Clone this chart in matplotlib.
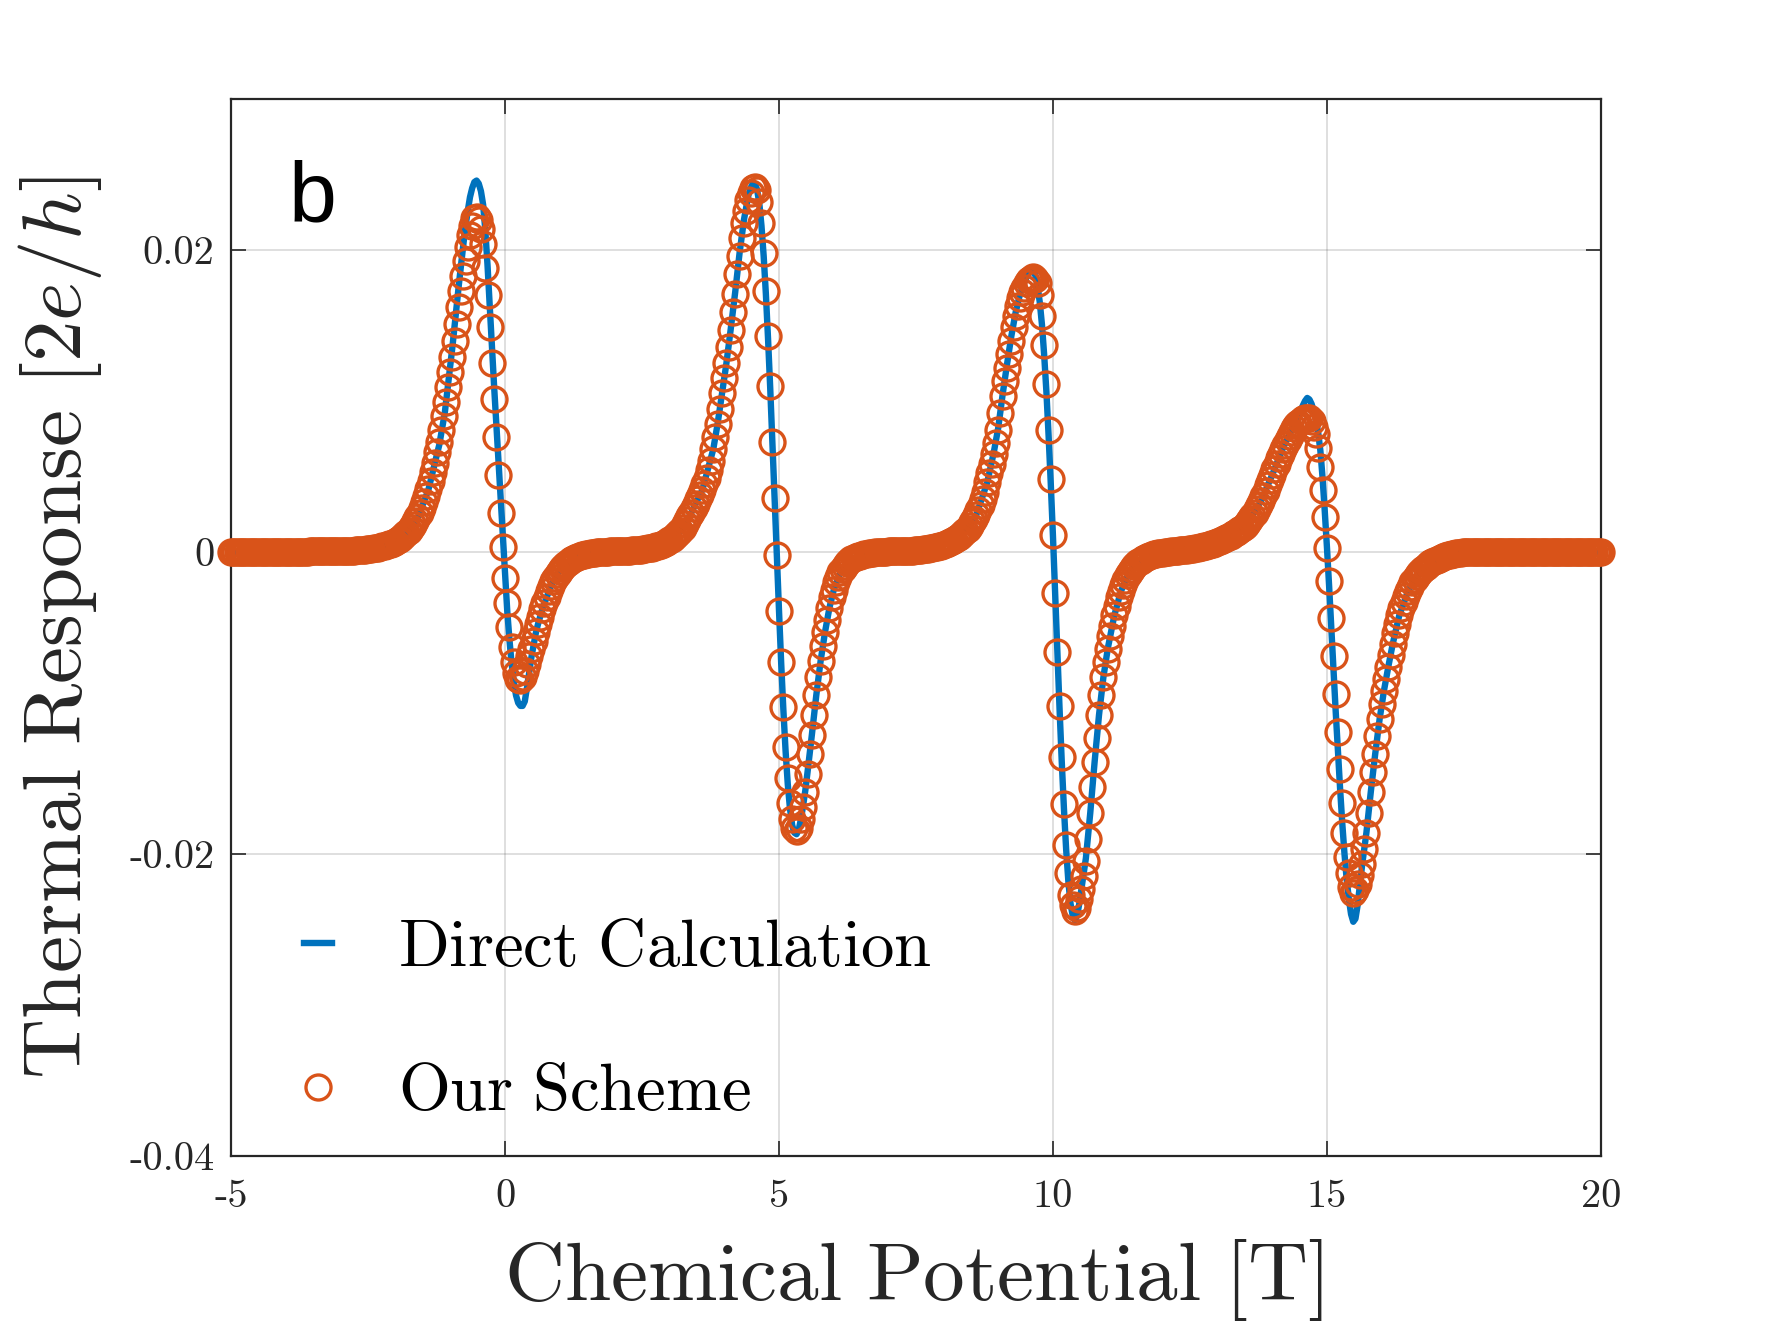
import numpy as np
import matplotlib
matplotlib.use("Agg")
import matplotlib.pyplot as plt
from matplotlib.lines import Line2D

plt.rcParams['mathtext.fontset'] = 'cm'

# chemical potential grid of the scheme (step 0.04 T)
mu = np.linspace(-5, 20, 626)

# "Our Scheme" response, in units of 1e-3 (2e/h); one row per unit of mu
scheme_milli = [
    # -5 .. -4.04
    0, 0, 0, 0, 0, 0, 0, 0, 0, 0, 0, 0, 0, 0, 0, 0, 0, 0, 0, 0, 0, 0, 0, 0, 0,
    # -4 .. -3.04
    0.01, 0.01, 0.01, 0.01, 0.01, 0.02, 0.02, 0.02, 0.02, 0.02, 0.02, 0.03, 0.03,
    0.03, 0.03, 0.03, 0.03, 0.04, 0.04, 0.04, 0.04, 0.04, 0.04, 0.05, 0.05,
    # -3 .. -2.04
    0.05, 0.05, 0.06, 0.06, 0.07, 0.08, 0.09, 0.1, 0.11, 0.12, 0.13, 0.15, 0.17,
    0.19, 0.21, 0.23, 0.26, 0.29, 0.32, 0.36, 0.4, 0.45, 0.5, 0.55, 0.61,
    # -2 .. -1.04
    0.68, 0.77, 0.87, 0.98, 1.1, 1.25, 1.4, 1.6, 1.8, 2.05, 2.3, 2.6, 2.9,
    3.3, 3.7, 4.2, 4.7, 5.3, 5.9, 6.6, 7.3, 8.1, 9.0, 9.9, 10.9,
    # -1 .. -0.04
    11.9, 12.9, 14.0, 15.1, 16.2, 17.3, 18.3, 19.3, 20.2, 21.0, 21.6, 22.1, 22.2,
    22.0, 21.4, 20.4, 18.8, 17.0, 14.9, 12.5, 10.1, 7.6, 5.1, 2.6, 0.3,
    # 0 .. 0.96
    -1.7, -3.4, -5.0, -6.3, -7.3, -8.0, -8.4, -8.5, -8.3, -7.9, -7.4, -6.9, -6.4,
    -5.9, -5.3, -4.8, -4.3, -3.8, -3.4, -3.0, -2.6, -2.25, -1.95, -1.7, -1.45,
    # 1 .. 1.96
    -1.25, -1.05, -0.9, -0.78, -0.66, -0.56, -0.47, -0.4, -0.33, -0.27, -0.22, -0.18, -0.14,
    -0.11, -0.08, -0.06, -0.04, -0.02, 0.0, 0.0, 0.01, 0.02, 0.02, 0.03, 0.03,
    # 2 .. 2.96
    0.04, 0.04, 0.05, 0.05, 0.06, 0.07, 0.08, 0.09, 0.1, 0.11, 0.12, 0.14, 0.16,
    0.18, 0.2, 0.23, 0.26, 0.29, 0.33, 0.37, 0.42, 0.47, 0.53, 0.6, 0.68,
    # 3 .. 3.96
    0.77, 0.87, 0.98, 1.1, 1.25, 1.4, 1.6, 1.85, 2.1, 2.35, 2.6, 2.9, 3.2,
    3.5, 3.8, 4.1, 4.5, 4.9, 5.4, 6.0, 6.8, 7.6, 8.5, 9.5, 10.5,
    # 4 .. 4.96
    11.5, 12.5, 13.6, 14.7, 15.9, 17.1, 18.4, 19.6, 20.8, 21.8, 22.6, 23.3, 23.8,
    24.1, 24.2, 24.0, 23.2, 21.8, 19.8, 17.3, 14.3, 11.0, 7.3, 3.6, -0.2,
    # 5 .. 5.96
    -3.9, -7.3, -10.3, -12.9, -15.0, -16.6, -17.7, -18.3, -18.5, -18.3, -17.7, -16.9, -15.9,
    -14.7, -13.4, -12.1, -10.8, -9.5, -8.3, -7.2, -6.2, -5.3, -4.5, -3.7, -3.0,
    # 6 .. 6.96
    -2.5, -2.0, -1.65, -1.35, -1.1, -0.9, -0.75, -0.62, -0.5, -0.42, -0.35, -0.29, -0.24,
    -0.19, -0.15, -0.12, -0.09, -0.06, -0.04, -0.02, 0.0, 0.01, 0.01, 0.02, 0.02,
    # 7 .. 7.96
    0.03, 0.03, 0.03, 0.03, 0.04, 0.04, 0.04, 0.05, 0.06, 0.07, 0.08, 0.09, 0.1,
    0.12, 0.13, 0.15, 0.17, 0.19, 0.21, 0.24, 0.27, 0.3, 0.34, 0.38, 0.42,
    # 8 .. 8.96
    0.47, 0.52, 0.58, 0.65, 0.72, 0.8, 0.9, 1.0, 1.12, 1.25, 1.4, 1.55, 1.75,
    1.95, 2.2, 2.45, 2.75, 3.1, 3.5, 4.0, 4.6, 5.2, 5.8, 6.5, 7.2,
    # 9 .. 9.96
    8.1, 9.2, 10.3, 11.3, 12.2, 13.1, 14.0, 14.9, 15.6, 16.3, 16.8, 17.2, 17.5,
    17.8, 18.0, 18.1, 18.2, 18.1, 17.8, 17.0, 15.6, 13.7, 11.1, 8.1, 4.8,
    # 10 .. 10.96
    1.1, -2.7, -6.6, -10.2, -13.6, -16.7, -19.4, -21.3, -22.7, -23.4, -23.8, -23.6, -23.0,
    -22.3, -21.5, -20.5, -19.0, -17.3, -15.6, -13.9, -12.3, -10.8, -9.5, -8.3, -7.3,
    # 11 .. 11.96
    -6.4, -5.6, -4.9, -4.2, -3.6, -3.0, -2.6, -2.2, -1.85, -1.55, -1.3, -1.1, -0.95,
    -0.8, -0.68, -0.57, -0.48, -0.4, -0.33, -0.27, -0.22, -0.17, -0.13, -0.1, -0.07,
    # 12 .. 12.96
    -0.04, -0.02, 0.0, 0.02, 0.03, 0.05, 0.06, 0.08, 0.1, 0.12, 0.14, 0.16, 0.18,
    0.2, 0.22, 0.24, 0.27, 0.3, 0.33, 0.37, 0.41, 0.45, 0.5, 0.55, 0.6,
    # 13 .. 13.96
    0.66, 0.72, 0.78, 0.85, 0.92, 1.0, 1.07, 1.16, 1.25, 1.35, 1.45, 1.55, 1.68,
    1.8, 2.0, 2.2, 2.4, 2.6, 2.85, 3.1, 3.4, 3.7, 4.05, 4.4, 4.75,
    # 14 .. 14.96
    5.1, 5.5, 5.85, 6.2, 6.5, 6.8, 7.1, 7.4, 7.7, 7.95, 8.2, 8.4, 8.55,
    8.7, 8.8, 8.85, 8.9, 8.85, 8.7, 8.3, 7.8, 6.9, 5.6, 4.1, 2.3,
    # 15 .. 15.96
    0.25, -1.9, -4.4, -6.9, -9.4, -11.9, -14.4, -16.6, -18.6, -20.2, -21.3, -22.2, -22.6,
    -22.4, -22.0, -21.4, -20.7, -19.7, -18.6, -17.3, -15.9, -14.6, -13.4, -12.2, -11.1,
    # 16 .. 16.96
    -10.1, -9.2, -8.4, -7.6, -6.8, -6.1, -5.4, -4.8, -4.2, -3.7, -3.3, -2.9, -2.6,
    -2.3, -2.0, -1.8, -1.6, -1.4, -1.25, -1.1, -0.98, -0.86, -0.76, -0.67, -0.59,
    # 17 .. 17.96
    -0.52, -0.45, -0.39, -0.33, -0.28, -0.23, -0.19, -0.15, -0.12, -0.09, -0.06, -0.04, -0.02,
    0.0, 0.0, 0.0, 0.0, 0.0, 0.0, 0.0, 0.0, 0.0, 0.0, 0.0, 0.0,
    # 18 .. 18.96
    0, 0, 0, 0, 0, 0, 0, 0, 0, 0, 0, 0, 0, 0, 0, 0, 0, 0, 0, 0, 0, 0, 0, 0, 0,
    # 19 .. 20
    0, 0, 0, 0, 0, 0, 0, 0, 0, 0, 0, 0, 0, 0, 0, 0, 0, 0, 0, 0, 0, 0, 0, 0, 0,
    0,
]

# "Direct Calculation" curve (x in T, y in 1e-3 of 2e/h)
direct_x = [
    -5.0, -4.0, -3.0, -2.5, -2.0, -1.8, -1.6, -1.4, -1.2, -1.1,
    -1.0, -0.96, -0.92, -0.88, -0.84, -0.80, -0.76, -0.72, -0.68, -0.64,
    -0.60, -0.56, -0.52, -0.48, -0.44, -0.40, -0.36, -0.32, -0.28, -0.24,
    -0.20, -0.16, -0.12, -0.08, -0.04, 0.00, 0.04, 0.08, 0.12, 0.16,
    0.20, 0.24, 0.28, 0.32, 0.36, 0.40, 0.44, 0.48, 0.52, 0.56,
    0.60, 0.68, 0.76, 0.84, 0.92, 1.00, 1.20, 1.40, 1.72, 2.2,
    2.6, 3.0, 3.2, 3.4, 3.6, 3.8, 3.88, 3.96, 4.04, 4.12,
    4.20, 4.28, 4.36, 4.44, 4.48, 4.52, 4.56, 4.60, 4.64, 4.68,
    4.72, 4.76, 4.80, 4.84, 4.88, 4.92, 4.96, 5.00, 5.04, 5.08,
    5.12, 5.16, 5.20, 5.24, 5.28, 5.32, 5.36, 5.40, 5.44, 5.48,
    5.52, 5.60, 5.68, 5.76, 5.84, 5.92, 6.00, 6.12, 6.24, 6.40,
    6.60, 6.80, 7.2, 7.6, 8.0, 8.2, 8.4, 8.6, 8.8, 8.92,
    9.00, 9.08, 9.16, 9.24, 9.32, 9.40, 9.48, 9.52, 9.56, 9.60,
    9.64, 9.68, 9.72, 9.76, 9.80, 9.84, 9.88, 9.92, 9.96, 10.00,
    10.04, 10.08, 10.12, 10.16, 10.20, 10.24, 10.28, 10.32, 10.36, 10.40,
    10.44, 10.48, 10.52, 10.56, 10.60, 10.68, 10.76, 10.84, 10.92, 11.00,
    11.12, 11.24, 11.40, 11.60, 11.80, 12.08, 12.4, 12.8, 13.2, 13.6,
    13.8, 14.0, 14.2, 14.32, 14.40, 14.48, 14.56, 14.60, 14.64, 14.68,
    14.72, 14.76, 14.80, 14.84, 14.88, 14.92, 14.96, 15.00, 15.04, 15.08,
    15.12, 15.16, 15.20, 15.24, 15.28, 15.32, 15.36, 15.40, 15.44, 15.48,
    15.52, 15.56, 15.60, 15.64, 15.72, 15.80, 15.88, 15.96, 16.04, 16.12,
    16.20, 16.32, 16.48, 16.64, 16.80, 17.0, 17.2, 17.52, 18.5, 20.0,
]
direct_milli = [
    0.0, 0.01, 0.05, 0.15, 0.65, 1.2, 2.2, 4.1, 7.1, 9.2,
    12.3, 13.6, 15.0, 16.4, 17.8, 19.1, 20.4, 21.6, 22.6, 23.5,
    24.1, 24.5, 24.6, 24.4, 23.9, 23.0, 21.3, 19.0, 16.3, 13.6,
    11.0, 8.5, 6.0, 3.4, 0.9, -1.6, -3.9, -5.8, -7.4, -8.6,
    -9.5, -10.0, -10.2, -10.2, -9.9, -9.0, -8.0, -7.0, -6.2, -5.4,
    -4.8, -3.8, -3.0, -2.25, -1.7, -1.25, -0.56, -0.22, 0.0, 0.07,
    0.23, 0.77, 1.4, 2.6, 4.1, 6.8, 8.5, 10.5, 12.5, 14.8,
    17.2, 19.8, 22.0, 23.6, 24.1, 24.4, 24.4, 24.0, 23.1, 21.6,
    19.6, 17.1, 14.1, 10.8, 7.2, 3.5, -0.2, -3.9, -7.4, -10.5,
    -13.2, -15.4, -17.0, -18.1, -18.6, -18.7, -18.4, -17.7, -16.8, -15.8,
    -14.6, -12.1, -9.5, -7.2, -5.3, -3.7, -2.5, -1.35, -0.75, -0.35,
    -0.12, 0.0, 0.04, 0.15, 0.47, 0.8, 1.4, 2.45, 4.6, 6.6,
    8.2, 10.4, 12.4, 14.3, 15.9, 17.1, 17.9, 18.2, 18.45, 18.6,
    18.6, 18.3, 17.6, 16.5, 15.0, 13.0, 10.6, 7.7, 4.5, 1.0,
    -2.8, -6.7, -10.4, -13.9, -17.0, -19.7, -21.8, -23.3, -24.1, -24.4,
    -24.1, -23.3, -22.3, -21.3, -20.3, -17.3, -13.9, -10.8, -8.3, -6.4,
    -4.2, -2.6, -1.3, -0.57, -0.22, 0.0, 0.14, 0.41, 1.0, 2.2,
    3.4, 5.1, 6.9, 7.8, 8.4, 9.0, 9.7, 10.0, 10.2, 10.1,
    9.8, 9.3, 8.7, 7.9, 6.7, 4.9, 2.7, 0.3, -2.3, -5.1,
    -7.9, -10.6, -13.2, -15.7, -18.0, -20.0, -21.7, -23.0, -24.0, -24.5,
    -24.3, -23.4, -22.1, -20.8, -18.6, -15.9, -13.4, -11.1, -9.2, -7.6,
    -6.1, -4.2, -2.6, -1.6, -0.98, -0.52, -0.23, 0.0, 0.0, 0.0,
]

xtick_vals = [-5, 0, 5, 10, 15, 20]
xtick_text = ['-5', '0', '5', '10', '15', '20']
ytick_vals = [-0.04, -0.02, 0, 0.02]
ytick_text = ['-0.04', '-0.02', '0', '0.02']

blue = '#0072BD'
orange = '#D95319'
axcol = '#262626'

y_scheme = np.array(scheme_milli) * 1e-3
y_direct = np.array(direct_milli) * 1e-3

fig = plt.figure(figsize=(8.84, 6.63), dpi=200)
ax = fig.add_axes([0.1307, 0.1284, 0.7748, 0.7969])

ax.plot(direct_x, y_direct, color=blue, lw=2.3, zorder=3)
ax.plot(mu, y_scheme, linestyle='none', marker='o', ms=9, mfc='none',
        mec=orange, mew=1.2, zorder=4, clip_on=False)

ax.set_xlim(-5, 20)
ax.set_ylim(-0.04, 0.03)
ax.set_xticks(xtick_vals)
ax.set_xticklabels(xtick_text, fontfamily='cmr10', fontsize=14.5)
ax.set_yticks(ytick_vals)
ax.set_yticklabels(ytick_text, fontfamily='cmr10', fontsize=14.5)
ax.tick_params(direction='in', length=5.4, width=0.6, top=True, right=True,
               color=axcol, labelcolor=axcol, pad=6)
ax.tick_params(axis='x', pad=8.5)
ax.grid(True, color=axcol, alpha=0.15, lw=0.7)
ax.set_axisbelow(True)
for s in ax.spines.values():
    s.set_color(axcol)
    s.set_linewidth(0.8)

ax.set_xlabel(r'$\mathrm{Chemical\ Potential\ [T]}$', fontsize=30, color=axcol)
ax.xaxis.set_label_coords(0.498, -0.0765)
ax.set_ylabel(r'$\mathrm{Thermal\ Response}\ [2e/h]$', fontsize=30, color=axcol)
ax.yaxis.set_label_coords(-0.0927, 0.5)

ax.text(0.042, 0.884, 'b', transform=ax.transAxes, ha='left', va='baseline',
        fontsize=31, family='Liberation Sans')

handles = [Line2D([0], [0], color=blue, lw=2.3),
           Line2D([0], [0], linestyle='none', marker='o', ms=9, mfc='none',
                  mec=orange, mew=1.2)]
labels = [r'$\mathrm{Direct\ Calculation}$', r'$\mathrm{Our\ Scheme}$']
ax.legend(handles, labels, loc='center left', bbox_to_anchor=(0.053, 0.129),
          frameon=False, fontsize=24, handlelength=0.42, handletextpad=1.0,
          labelspacing=1.17, borderpad=0, borderaxespad=0)

fig.savefig('out.png', dpi=200)
